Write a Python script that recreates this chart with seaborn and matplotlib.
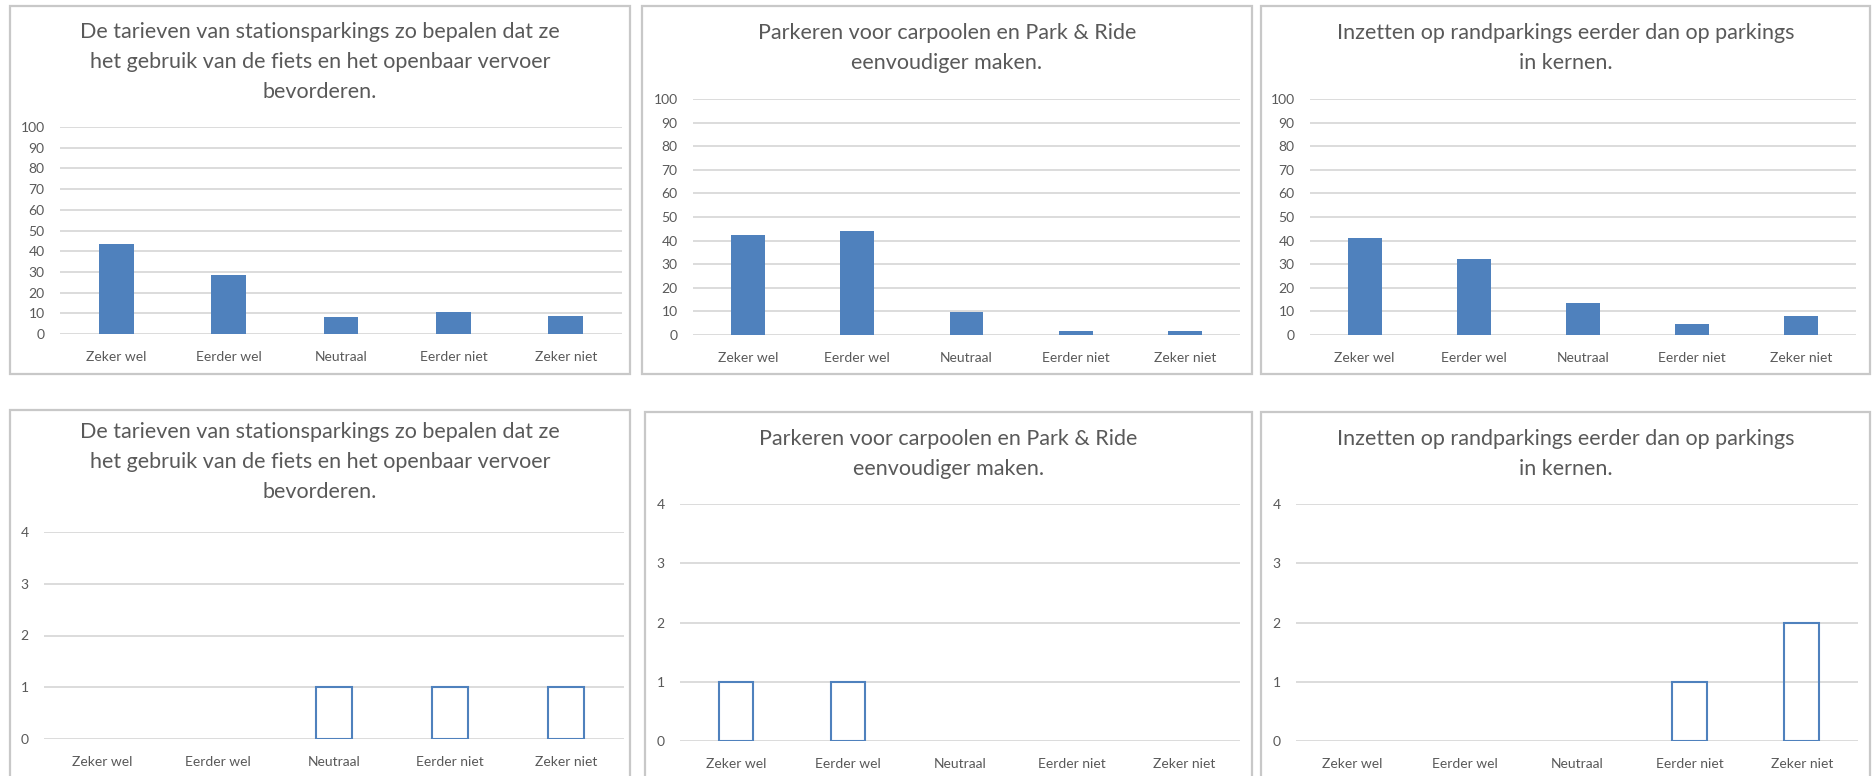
import matplotlib
matplotlib.use("Agg")
import matplotlib.pyplot as plt
from matplotlib.patches import Rectangle
import seaborn as sns

# Answer categories shared by all six charts
categories = ["Zeker wel", "Eerder wel", "Neutraal", "Eerder niet", "Zeker niet"]

# Chart titles
title_tarieven = "De tarieven van stationsparkings zo bepalen dat ze\nhet gebruik van de fiets en het openbaar vervoer\nbevorderen."
title_carpool = "Parkeren voor carpoolen en Park & Ride\neenvoudiger maken."
title_rand = "Inzetten op randparkings eerder dan op parkings\nin kernen."

# Top row: percentages
pct_tarieven = [43.4, 28.5, 8.1, 10.8, 8.9]
pct_carpool = [42.3, 44.1, 9.9, 1.7, 1.7]
pct_rand = [41.3, 32.3, 13.5, 4.7, 8.2]

# Bottom row: counts
cnt_tarieven = [0, 0, 1, 1, 1]
cnt_carpool = [1, 1, 0, 0, 0]
cnt_rand = [0, 0, 0, 1, 2]

pct_ticks = list(range(0, 101, 10))
cnt_ticks = [0, 1, 2, 3, 4]

BLUE = "#4F81BD"
GRID = "#D9D9D9"
TEXT = "#595959"
FRAME = "#C8C8C8"

sns.set_theme(style="white")
plt.rcParams["font.family"] = ["Lato", "DejaVu Sans"]

W, H = 1874, 776
fig = plt.figure(figsize=(W / 100, H / 100), dpi=100)
fig.patch.set_facecolor("white")


def fx(x):
    return x / W


def fy(y):
    return 1 - y / H


def frame(x0, y0, x1, y1):
    fig.patches.append(Rectangle((fx(x0), fy(y1)), fx(x1) - fx(x0), fy(y0) - fy(y1),
                                 transform=fig.transFigure, fill=False,
                                 edgecolor=FRAME, linewidth=1.6, zorder=0))


def panel(box, plot, title, title_y, values, ticks, ymax, filled, label_pad):
    x0, y0, x1, y1 = box
    frame(x0, y0, x1, y1)
    px0, ptop, px1, pbot = plot
    ax = fig.add_axes([fx(px0), fy(pbot), fx(px1) - fx(px0), fy(ptop) - fy(pbot)])
    if filled:
        sns.barplot(x=categories, y=values, ax=ax, color=BLUE, saturation=1,
                    width=0.31, linewidth=0)
    else:
        sns.barplot(x=categories, y=values, ax=ax, color=BLUE, saturation=1,
                    width=0.31, fill=False, linewidth=1.5)
        for p in ax.patches:
            if p.get_height() == 0:
                p.set_visible(False)
    ax.set_xlim(-0.5, len(categories) - 0.5)
    ax.set_ylim(0, ymax)
    ax.set_yticks(ticks)
    ax.set_yticklabels([str(t) for t in ticks])
    ax.yaxis.grid(True, color=GRID, linewidth=1.3)
    ax.set_axisbelow(True)
    for s in ax.spines.values():
        s.set_visible(False)
    ax.tick_params(axis="both", length=0, labelsize=10, labelcolor=TEXT)
    ax.tick_params(axis="y", pad=11)
    ax.tick_params(axis="x", pad=label_pad)
    ax.set_xlabel("")
    ax.set_ylabel("")
    ax.set_facecolor("none")
    fig.text(fx((x0 + x1) / 2), fy(title_y), title, ha="center", va="center",
             fontsize=15.5, color=TEXT, linespacing=1.65)
    return ax


# Top row
panel((10, 6, 630, 374), (60, 127, 622, 334), title_tarieven, 62,
      pct_tarieven, pct_ticks, 100, True, 12)
panel((642, 6, 1252, 374), (693, 99, 1240, 335), title_carpool, 48,
      pct_carpool, pct_ticks, 100, True, 12)
panel((1261, 6, 1870, 374), (1310, 99, 1856, 335), title_rand, 48,
      pct_rand, pct_ticks, 100, True, 12)

# Bottom row
panel((10, 410, 630, 790), (44, 532, 624, 739), title_tarieven, 462,
      cnt_tarieven, cnt_ticks, 4, False, 12)
panel((645, 412, 1252, 790), (680, 504, 1240, 741), title_carpool, 454,
      cnt_carpool, cnt_ticks, 4, False, 12)
panel((1261, 412, 1870, 790), (1296, 504, 1858, 741), title_rand, 454,
      cnt_rand, cnt_ticks, 4, False, 12)

fig.savefig("out.png", dpi=100, facecolor="white")
